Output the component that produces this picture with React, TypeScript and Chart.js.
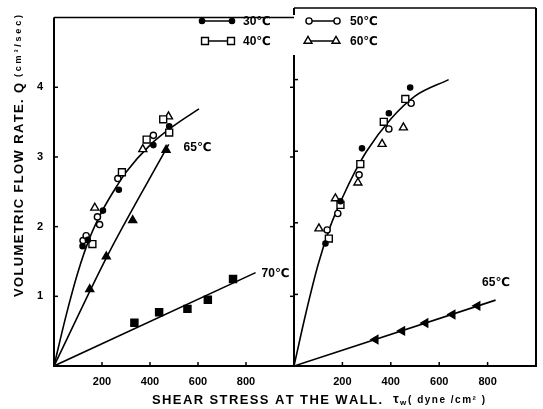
import React, { useEffect, useRef } from 'react';
import { Chart, registerables } from 'chart.js';

Chart.register(...registerables);

const W = 543;
const H = 409;
const FONT = '"Liberation Sans", Arial, "DejaVu Sans", sans-serif';

// Axis ranges and tick labels
const X_MAX = 1000;
const Y_MAX = 5;
const xTicks = [200, 400, 600, 800];
const yTicks = [1, 2, 3, 4];

// ---------- Left panel (x: shear stress, y: Q) ----------
const leftCurve: [number, number][] = [[0, 0], [50, 0.72], [100, 1.35], [150, 1.85], [200, 2.22], [265, 2.6], [300, 2.78], [400, 3.17], [500, 3.45], [604, 3.69]];
const leftLine65: [number, number][] = [[0, 0], [225, 1.6], [478, 3.18]];
const leftLine70: [number, number][] = [[0, 0], [840, 1.34]];
const left30: [number, number][] = [[119, 1.72], [141, 1.81], [204, 2.23], [270, 2.53], [414, 3.17], [480, 3.44]];
const left40: [number, number][] = [[160, 1.75], [283, 2.78], [386, 3.25], [455, 3.54], [480, 3.35]];
const left50: [number, number][] = [[121, 1.8], [134, 1.87], [181, 2.14], [190, 2.03], [266, 2.69], [414, 3.31]];
const left60: [number, number][] = [[170, 2.27], [370, 3.11], [477, 3.58]];
const left65: [number, number][] = [[149, 1.1], [218, 1.57], [328, 2.09], [467, 3.1]];
const left70: [number, number][] = [[335, 0.62], [438, 0.77], [556, 0.82], [641, 0.95], [746, 1.25]];
const leftLabels = [{ text: '65℃', x: 540, y: 3.13 }, { text: '70℃', x: 865, y: 1.33 }];

// ---------- Right panel ----------
const rightCurve: [number, number][] = [[0, 0], [50, 0.75], [100, 1.42], [150, 1.95], [200, 2.35], [250, 2.7], [300, 3.0], [400, 3.45], [500, 3.77], [639, 4.0]];
const rightLine65: [number, number][] = [[0, 0], [833, 0.92]];
const right30: [number, number][] = [[130, 1.71], [192, 2.3], [281, 3.04], [392, 3.53], [480, 3.89]];
const right40: [number, number][] = [[144, 1.78], [192, 2.25], [274, 2.82], [371, 3.41], [460, 3.73]];
const right50: [number, number][] = [[137, 1.9], [181, 2.13], [269, 2.67], [392, 3.31], [484, 3.67]];
const right60: [number, number][] = [[103, 1.92], [171, 2.34], [264, 2.56], [364, 3.1], [452, 3.33]];
const right65: [number, number][] = [[337, 0.37], [447, 0.49], [543, 0.6], [655, 0.72], [758, 0.84]];
const rightLabels = [{ text: '65℃', x: 777, y: 1.16 }];

// Legend
const legendLabels = ['30℃', '40℃', '50℃', '60℃'];

const yTitle = 'VOLUMETRIC FLOW RATE. Q';
const yTitleUnit = '(cm³/sec)';
const xTitle = 'SHEAR STRESS AT THE WALL.';
const xTitleSym = 'τ';
const xTitleSub = 'w';
const xTitleUnit = '( dyne /cm² )';

type Style = { pointStyle: string; radius: number; filled: boolean; rotation?: number };
const ST30: Style = { pointStyle: 'circle', radius: 2.6, filled: true };
const ST40: Style = { pointStyle: 'rect', radius: 4.9, filled: false };
const ST50: Style = { pointStyle: 'circle', radius: 3.1, filled: false };
const ST60: Style = { pointStyle: 'triangle', radius: 4.6, filled: false };
const ST65L: Style = { pointStyle: 'triangle', radius: 4.6, filled: true };
const ST65R: Style = { pointStyle: 'triangle', radius: 4.6, filled: true, rotation: -90 };
const ST70: Style = { pointStyle: 'rect', radius: 5, filled: true };

const toXY = (a: [number, number][]) => a.map(([x, y]) => ({ x, y }));

function markerSet(label: string, data: [number, number][], st: Style) {
  return {
    label,
    data: toXY(data),
    showLine: false,
    pointStyle: st.pointStyle,
    pointRadius: st.radius,
    pointHoverRadius: st.radius,
    pointRotation: st.rotation || 0,
    pointBackgroundColor: st.filled ? '#000' : '#fff',
    pointBorderColor: '#000',
    pointBorderWidth: 1.4,
    borderColor: '#000',
  };
}

function lineSet(label: string, data: [number, number][], smooth: boolean) {
  return {
    label,
    data: toXY(data),
    showLine: true,
    pointRadius: 0,
    pointHoverRadius: 0,
    borderColor: '#000',
    borderWidth: 1.6,
    fill: false,
    tension: 0,
    cubicInterpolationMode: smooth ? 'monotone' : 'default',
  };
}

function drawMarker(ctx: CanvasRenderingContext2D, st: Style, x: number, y: number) {
  const r = st.radius;
  ctx.beginPath();
  if (st.pointStyle === 'circle') {
    ctx.arc(x, y, r, 0, Math.PI * 2);
  } else if (st.pointStyle === 'rect') {
    const s = r * Math.SQRT1_2;
    ctx.rect(x - s, y - s, 2 * s, 2 * s);
  } else {
    let rad = ((st.rotation || 0) * Math.PI) / 180;
    ctx.moveTo(x + Math.sin(rad) * r, y - Math.cos(rad) * r);
    rad += (2 * Math.PI) / 3;
    ctx.lineTo(x + Math.sin(rad) * r, y - Math.cos(rad) * r);
    rad += (2 * Math.PI) / 3;
    ctx.lineTo(x + Math.sin(rad) * r, y - Math.cos(rad) * r);
    ctx.closePath();
  }
  ctx.fillStyle = st.filled ? '#000' : '#fff';
  ctx.fill();
  ctx.lineWidth = 1.4;
  ctx.strokeStyle = '#000';
  ctx.stroke();
}

function drawSpaced(ctx: CanvasRenderingContext2D, text: string, x: number, y: number, target: number) {
  const chars = Array.from(text);
  const widths = chars.map((c) => ctx.measureText(c).width);
  const total = widths.reduce((a, b) => a + b, 0);
  const gap = chars.length > 1 ? (target - total) / (chars.length - 1) : 0;
  let cx = x;
  chars.forEach((c, i) => {
    ctx.fillText(c, cx, y);
    cx += widths[i] + gap;
  });
}

function seg(ctx: CanvasRenderingContext2D, x1: number, y1: number, x2: number, y2: number) {
  ctx.beginPath();
  ctx.moveTo(x1, y1);
  ctx.lineTo(x2, y2);
  ctx.stroke();
}

function drawLabels(chart: any, labels: { text: string; x: number; y: number }[]) {
  const { ctx, scales } = chart;
  ctx.fillStyle = '#000';
  ctx.font = `bold 12px ${FONT}`;
  ctx.textAlign = 'left';
  ctx.textBaseline = 'middle';
  labels.forEach((l) => ctx.fillText(l.text, scales.x.getPixelForValue(l.x), scales.y.getPixelForValue(l.y)));
}

const leftDecor = {
  id: 'leftDecor',
  afterDraw(chart: any) {
    const { ctx, chartArea: a, scales } = chart;
    ctx.save();
    ctx.strokeStyle = '#000';
    ctx.fillStyle = '#000';
    // frame
    ctx.lineWidth = 2;
    ctx.beginPath();
    ctx.moveTo(a.left, a.top);
    ctx.lineTo(a.left, a.bottom);
    ctx.lineTo(a.right, a.bottom);
    ctx.stroke();
    ctx.lineWidth = 1.5;
    seg(ctx, a.left, a.top, a.right, a.top);
    // inward tick marks
    ctx.lineWidth = 1.5;
    xTicks.forEach((v) => {
      const px = scales.x.getPixelForValue(v);
      seg(ctx, px, a.bottom, px, a.bottom - 4);
    });
    yTicks.forEach((v) => {
      const py = scales.y.getPixelForValue(v);
      seg(ctx, a.left, py, a.left + 4, py);
      seg(ctx, a.right - 4, py, a.right, py);
    });
    drawLabels(chart, leftLabels);

    // legend
    const legend = [
      { st: ST30, x1: 202, x2: 232, tx: 243, y: 21 },
      { st: ST40, x1: 205, x2: 231, tx: 243, y: 41 },
      { st: ST50, x1: 309, x2: 337, tx: 350, y: 21 },
      { st: ST60, x1: 308, x2: 336, tx: 350, y: 41 },
    ];
    legend.forEach((e, i) => {
      ctx.strokeStyle = '#000';
      ctx.lineWidth = 1.5;
      seg(ctx, e.x1, e.y, e.x2, e.y);
      drawMarker(ctx, e.st, e.x1, e.y);
      drawMarker(ctx, e.st, e.x2, e.y);
      ctx.fillStyle = '#000';
      ctx.font = `bold 12px ${FONT}`;
      ctx.textAlign = 'left';
      ctx.textBaseline = 'middle';
      ctx.fillText(legendLabels[i], e.tx, e.y + 1);
    });

    // y title (rotated)
    ctx.save();
    ctx.translate(19, 297);
    ctx.rotate(-Math.PI / 2);
    ctx.fillStyle = '#000';
    ctx.textAlign = 'left';
    ctx.textBaseline = 'middle';
    ctx.font = `bold 13px ${FONT}`;
    drawSpaced(ctx, yTitle, 0, 0, 214);
    ctx.font = `bold 9px ${FONT}`;
    drawSpaced(ctx, yTitleUnit, 220, 0, 62);
    ctx.restore();

    // x title
    ctx.fillStyle = '#000';
    ctx.textAlign = 'left';
    ctx.textBaseline = 'middle';
    ctx.font = `bold 13px ${FONT}`;
    drawSpaced(ctx, xTitle, 152, 400, 230);
    ctx.font = `bold 13px ${FONT}`;
    ctx.fillText(xTitleSym, 393, 399);
    ctx.font = `bold 8px ${FONT}`;
    ctx.fillText(xTitleSub, 400, 403);
    ctx.font = `bold 10px ${FONT}`;
    drawSpaced(ctx, xTitleUnit, 408, 400, 77);
    ctx.restore();
  },
};

const rightDecor = {
  id: 'rightDecor',
  afterDraw(chart: any) {
    const { ctx, chartArea: a, scales } = chart;
    ctx.save();
    ctx.strokeStyle = '#000';
    ctx.lineWidth = 2;
    ctx.beginPath();
    ctx.moveTo(a.left, a.bottom);
    ctx.lineTo(a.right, a.bottom);
    ctx.lineTo(a.right, a.top);
    ctx.stroke();
    ctx.lineWidth = 1.5;
    seg(ctx, a.left, a.top, a.right, a.top);
    ctx.lineWidth = 2;
    seg(ctx, a.left, a.top, a.left, a.top + 7);
    seg(ctx, a.left, 55, a.left, a.bottom);
    ctx.lineWidth = 1.5;
    xTicks.forEach((v) => {
      const px = scales.x.getPixelForValue(v);
      seg(ctx, px, a.bottom, px, a.bottom - 4);
    });
    yTicks.forEach((v) => {
      const py = scales.y.getPixelForValue(v);
      if (py > 55) seg(ctx, a.left, py, a.left + 4, py);
    });
    drawLabels(chart, rightLabels);
    ctx.restore();
  },
};

function makeScales(showY: boolean, yWidth: number) {
  const tickFont = { family: FONT, size: 11, weight: 'bold' as const };
  return {
    x: {
      type: 'linear' as const,
      min: 0,
      max: X_MAX,
      afterBuildTicks: (s: any) => {
        s.ticks = xTicks.map((v) => ({ value: v }));
      },
      afterFit: (s: any) => {
        s.height = 43;
      },
      grid: { display: false, drawTicks: false },
      border: { display: false },
      ticks: { color: '#000', font: tickFont, padding: 9, maxRotation: 0, autoSkip: false },
    },
    y: {
      type: 'linear' as const,
      min: 0,
      max: Y_MAX,
      afterBuildTicks: (s: any) => {
        s.ticks = yTicks.map((v) => ({ value: v }));
      },
      afterFit: (s: any) => {
        s.width = yWidth;
      },
      grid: { display: false, drawTicks: false },
      border: { display: false },
      ticks: { display: showY, color: '#000', font: tickFont, padding: 11, autoSkip: false },
    },
  };
}

function baseOptions(padding: any, showY: boolean, yWidth: number) {
  return {
    responsive: false,
    animation: false as const,
    devicePixelRatio: 1,
    layout: { padding },
    plugins: { legend: { display: false }, tooltip: { enabled: false } },
    events: [],
    scales: makeScales(showY, yWidth),
  };
}

export default function App() {
  const leftRef = useRef<HTMLCanvasElement>(null);
  const rightRef = useRef<HTMLCanvasElement>(null);

  useEffect(() => {
    const left = new Chart(leftRef.current as HTMLCanvasElement, {
      type: 'scatter',
      data: {
        datasets: [
          markerSet('30℃', left30, ST30),
          markerSet('40℃', left40, ST40),
          markerSet('50℃', left50, ST50),
          markerSet('60℃', left60, ST60),
          markerSet('65℃', left65, ST65L),
          markerSet('70℃', left70, ST70),
          lineSet('fit', leftCurve, true),
          lineSet('65℃ fit', leftLine65, true),
          lineSet('70℃ fit', leftLine70, false),
        ] as any,
      },
      options: baseOptions({ top: 8, right: 249, bottom: 0, left: 0 }, true, 54) as any,
      plugins: [leftDecor],
    });
    const right = new Chart(rightRef.current as HTMLCanvasElement, {
      type: 'scatter',
      data: {
        datasets: [
          markerSet('30℃', right30, ST30),
          markerSet('40℃', right40, ST40),
          markerSet('50℃', right50, ST50),
          markerSet('60℃', right60, ST60),
          markerSet('65℃', right65, ST65R),
          lineSet('fit', rightCurve, true),
          lineSet('65℃ fit', rightLine65, false),
        ] as any,
      },
      options: baseOptions({ top: 8, right: 7, bottom: 0, left: 294 }, false, 0) as any,
      plugins: [rightDecor],
    });
    return () => {
      left.destroy();
      right.destroy();
    };
  }, []);

  return (
    <div style={{ position: 'absolute', left: 0, top: 0, width: W, height: H, background: '#fff' }}>
      <canvas ref={leftRef} width={W} height={H} style={{ position: 'absolute', left: 0, top: 0 }} />
      <canvas ref={rightRef} width={W} height={H} style={{ position: 'absolute', left: 0, top: 0 }} />
    </div>
  );
}
